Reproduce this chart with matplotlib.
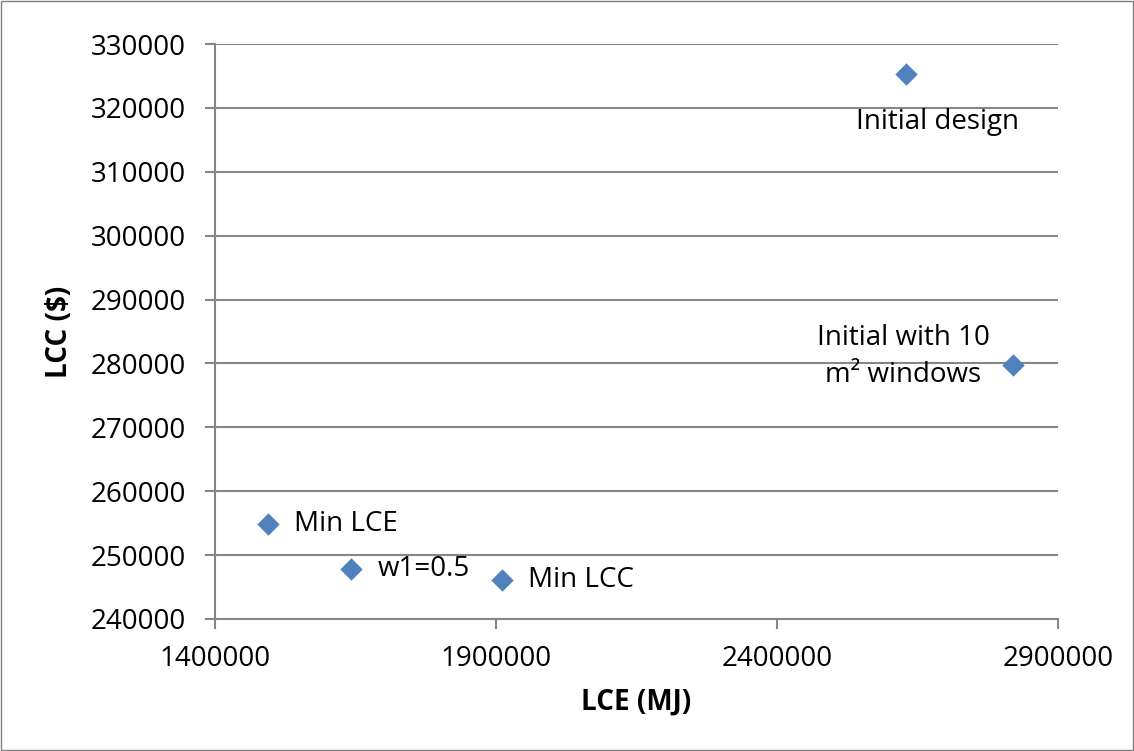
import matplotlib.pyplot as plt
from matplotlib.patches import Rectangle
from matplotlib.ticker import FuncFormatter

plt.rcParams['font.family'] = ['Open Sans', 'DejaVu Sans']

labels = ["Min LCE", "w1=0.5", "Min LCC", "Initial design", "Initial with 10\nm² windows"]
lce = [1494000, 1642000, 1910000, 2629000, 2820000]
lcc = [254900, 247800, 246100, 325250, 279750]

grid_c = "#868686"
blue = "#4F81BD"
fs = 20

fig = plt.figure(figsize=(11.34, 7.51), dpi=100)
ax = fig.add_axes([0.1896, 0.1758, 0.7434, 0.7656])

ax.scatter(lce, lcc, marker="D", s=130, color=blue, zorder=3, linewidths=0)

# label placement like the excel data labels
offsets = [(19, 0, "left", "center"),
           (19, 0, "left", "center"),
           (19, 0, "left", "center"),
           (23, -34, "center", "center"),
           (-79, 6, "center", "center")]
for lab, x, y, (dx, dy, ha, va) in zip(labels, lce, lcc, offsets):
    ax.annotate(lab, (x, y), xytext=(dx, dy), textcoords="offset points",
                ha=ha, va=va, fontsize=fs, linespacing=1.4)

ax.set_xlim(1400000, 2900000)
ax.set_ylim(240000, 330000)
ax.set_xticks([1400000, 1900000, 2400000, 2900000])
ax.set_yticks(range(240000, 330001, 10000))
ax.xaxis.set_major_formatter(FuncFormatter(lambda v, p: f"{v:.0f}"))
ax.yaxis.set_major_formatter(FuncFormatter(lambda v, p: f"{v:.0f}"))
ax.yaxis.grid(True, color=grid_c, linewidth=1.5)
ax.set_axisbelow(True)

for s in ["top", "right"]:
    ax.spines[s].set_visible(False)
for s in ["left", "bottom"]:
    ax.spines[s].set_color(grid_c)
    ax.spines[s].set_linewidth(1.5)
ax.tick_params(axis="both", colors=grid_c, width=1.5, length=7, labelsize=fs,
               labelcolor="black")
ax.tick_params(axis="y", pad=14)
ax.tick_params(axis="x", pad=12)

ax.set_xlabel("LCE (MJ)", fontsize=fs, fontweight="bold", labelpad=10)
ax.set_ylabel("LCC ($)", fontsize=fs, fontweight="bold", labelpad=12)

fig.patches.append(Rectangle((0.001, 0.001), 0.998, 0.998, transform=fig.transFigure,
                             fill=False, edgecolor="#7f7f7f", linewidth=1))

fig.savefig("out.png", dpi=100)
